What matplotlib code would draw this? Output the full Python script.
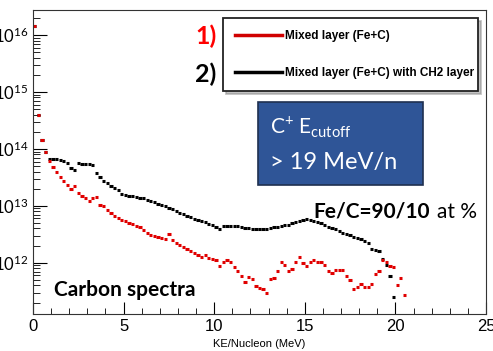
import numpy as np
import matplotlib
matplotlib.use('Agg')
import matplotlib.pyplot as plt
from matplotlib.lines import Line2D
from matplotlib.patches import Rectangle

plt.rcParams['font.family'] = ['Lato', 'DejaVu Sans']
plt.rcParams['mathtext.fontset'] = 'custom'
plt.rcParams['mathtext.rm'] = 'Lato'
plt.rcParams['mathtext.bf'] = 'Lato:bold'

# KE per nucleon (MeV) bin centres and log10 of the yield
ke_black = [0.1, 0.3, 0.5, 0.7, 0.9, 1.1, 1.3, 1.5, 1.7, 1.9, 2.1, 2.3, 2.5, 2.7, 2.9,
            3.1, 3.3, 3.5, 3.7, 3.9, 4.1, 4.3, 4.5, 4.7, 4.9, 5.1, 5.3, 5.5, 5.7, 5.9,
            6.1, 6.3, 6.5, 6.7, 6.9, 7.1, 7.3, 7.5, 7.7, 7.9, 8.1, 8.3, 8.5, 8.7, 8.9,
            9.1, 9.3, 9.5, 9.7, 9.9, 10.1, 10.3, 10.5, 10.7, 10.9, 11.1, 11.3, 11.5,
            11.7, 11.9, 12.1, 12.3, 12.5, 12.7, 12.9, 13.1, 13.3, 13.5, 13.7, 13.9,
            14.1, 14.3, 14.5, 14.7, 14.9, 15.1, 15.3, 15.5, 15.7, 15.9, 16.1, 16.3,
            16.5, 16.7, 16.9, 17.1, 17.3, 17.5, 17.7, 17.9, 18.1, 18.3, 18.5, 18.7,
            18.9, 19.1, 19.3, 19.5, 19.7, 19.9]
log_black = [16.16, 14.60, 14.16, 13.95, 13.83, 13.82, 13.82, 13.81, 13.79, 13.75,
             13.67, 13.63, 13.76, 13.74, 13.74, 13.74, 13.71, 13.57, 13.51, 13.44,
             13.40, 13.35, 13.31, 13.27, 13.21, 13.19, 13.18, 13.18, 13.16, 13.14,
             13.13, 13.11, 13.09, 13.07, 13.04, 13.02, 12.99, 12.97, 12.94, 12.91,
             12.88, 12.85, 12.82, 12.80, 12.77, 12.75, 12.73, 12.71, 12.68, 12.66,
             12.63, 12.60, 12.65, 12.65, 12.64, 12.64, 12.65, 12.63, 12.61, 12.61,
             12.60, 12.60, 12.59, 12.59, 12.60, 12.61, 12.62, 12.63, 12.64, 12.66,
             12.67, 12.69, 12.71, 12.73, 12.75, 12.77, 12.75, 12.73, 12.71, 12.69,
             12.66, 12.63, 12.61, 12.59, 12.56, 12.53, 12.51, 12.49, 12.46, 12.44,
             12.41, 12.39, 12.35, 12.24, 12.22, 12.21, 12.07, 11.96, 11.76, 11.40]

ke_red = ke_black + [20.1, 20.3, 20.5]
log_red = [16.16, 14.60, 14.16, 13.95, 13.78, 13.68, 13.60, 13.51, 13.43, 13.36,
           13.30, 13.35, 13.23, 13.18, 13.14, 13.08, 13.14, 13.16, 13.01, 12.99,
           12.92, 12.87, 12.82, 12.79, 12.75, 12.74, 12.70, 12.68, 12.64, 12.62,
           12.57, 12.52, 12.49, 12.47, 12.45, 12.44, 12.42, 12.51, 12.40, 12.35,
           12.31, 12.27, 12.24, 12.21, 12.17, 12.14, 12.10, 12.14, 12.08, 12.06,
           12.04, 11.94, 12.02, 12.05, 12.01, 11.93, 11.86, 11.76, 11.66, 11.75,
           11.71, 11.60, 11.56, 11.54, 11.47, 11.72, 11.73, 11.85, 12.01, 11.96,
           11.85, 11.89, 12.02, 12.11, 11.99, 11.94, 12.01, 12.04, 12.02, 12.01,
           11.96, 11.85, 11.82, 11.88, 11.88, 11.87, 11.77, 11.70, 11.54, 11.58,
           11.63, 11.57, 11.58, 11.63, 11.81, 11.85, 12.05, 12.02, 11.94, 11.93,
           11.61, 11.74, 11.44]

labels = ['Mixed layer (Fe+C)', 'Mixed layer (Fe+C) with CH2 layer']

W, H = 493, 351
fig = plt.figure(figsize=(W / 100, H / 100), dpi=100)
ax = fig.add_axes([33 / W, 1 - 314 / H, 453 / W, 304 / H])

ax.errorbar(ke_black, 10 ** np.array(log_black), xerr=0.09, fmt='none',
            ecolor='black', elinewidth=2.2)
ax.errorbar(ke_red, 10 ** np.array(log_red), xerr=0.09, fmt='none',
            ecolor='#e00000', elinewidth=2.2)

ax.set_yscale('log')
ax.set_xlim(0, 25)
ax.set_ylim(10 ** 11.1, 10 ** 16.44)
ax.set_xticks([0, 5, 10, 15, 20, 25])
ax.set_xticks(np.arange(0, 26, 1), minor=True)
ax.set_yticks([1e12, 1e13, 1e14, 1e15, 1e16])
ax.tick_params(which='both', direction='in', top=False, right=False, labelsize=12)
ax.tick_params(which='major', axis='y', length=10)
ax.tick_params(which='minor', axis='y', length=5)
ax.tick_params(which='major', axis='x', length=9)
ax.tick_params(which='minor', axis='x', length=4.5)
for lab in ax.get_xticklabels():
    lab.set_family('Liberation Sans')
    lab.set_fontsize(12)
for s in ax.spines.values():
    s.set_color('#333333')
ax.set_xlabel('KE/Nucleon (MeV)', fontsize=8, family='Liberation Sans', labelpad=4)

handles = [Line2D([], [], color='#d00000', lw=2.5), Line2D([], [], color='black', lw=2.5)]
leg = ax.legend(handles, labels, loc='upper left', bbox_to_anchor=(0.419, 0.974, 0.563, 0.0),
                mode='expand', borderaxespad=0, handlelength=4.0, handletextpad=0.3,
                labelspacing=2.15, borderpad=1.0, fancybox=False, framealpha=1,
                prop={'family': 'Liberation Sans', 'weight': 'bold', 'size': 8.5},
                edgecolor='#222222', shadow={'ox': 2, 'oy': -2, 'color': '#888888'})
leg.get_frame().set_linewidth(1.3)

fig.text(206 / W, 1 - 36 / H, '1)', color='#ff0000', fontsize=18, fontweight='bold',
         ha='center', va='center')
fig.text(206 / W, 1 - 74 / H, '2)', color='black', fontsize=18, fontweight='bold',
         ha='center', va='center')

fig.patches.append(Rectangle((258 / W, 1 - 185 / H), 165 / W, 83 / H,
                             transform=fig.transFigure, facecolor='#2f5597',
                             edgecolor='#1f3050', lw=1.2))
fig.text(270 / W, 1 - 127 / H, r'C$^{+}$ E$_{\mathrm{cutoff}}$', color='white',
         fontsize=15, ha='left', va='center')
fig.text(270 / W, 1 - 163 / H, '> 19 MeV/n', color='white', fontsize=17,
         ha='left', va='center')

fig.text(313 / W, 1 - 212 / H, 'Fe/C=90/10', fontsize=15, fontweight='bold',
         ha='left', va='center')
fig.text(437 / W, 1 - 212 / H, 'at %', fontsize=15, ha='left', va='center')
fig.text(54 / W, 1 - 290 / H, 'Carbon spectra', fontsize=15, fontweight='bold',
         ha='left', va='center')

fig.savefig('out.png', dpi=100)
